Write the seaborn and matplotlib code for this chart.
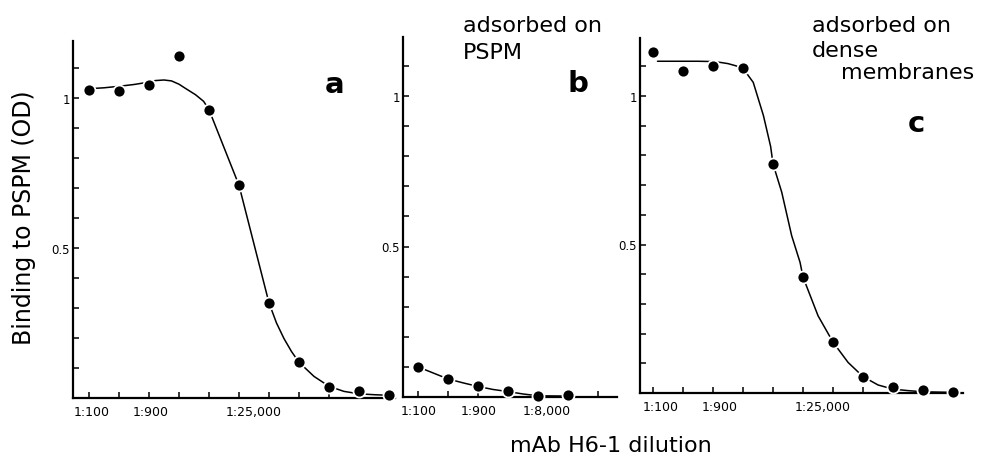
import numpy as np
import pandas as pd
import matplotlib
matplotlib.use("Agg")
import matplotlib.pyplot as plt
from matplotlib.transforms import ScaledTranslation
import seaborn as sns

# ---------------- data (dilution step index: 1:100, 1:300, 1:900, ... three-fold) ----
steps_a = [0, 1, 2, 3, 4, 5, 6, 7, 8, 9, 10]
od_a = [1.028, 1.024, 1.042, 1.141, 0.961, 0.709, 0.317, 0.119, 0.037, 0.022, 0.011]
fit_x_a = [0, 0.5, 1, 1.5, 2, 2.2, 2.5, 2.75, 3.0, 3.2, 3.55, 3.82, 4, 5, 6, 6.25, 6.5,
           6.75, 7, 7.5, 8, 8.5, 9, 9.5, 10]
fit_a = [1.031, 1.034, 1.039, 1.045, 1.053, 1.058, 1.06, 1.057, 1.046, 1.033, 1.011,
         0.989, 0.961, 0.709, 0.317, 0.25, 0.198, 0.155, 0.119, 0.072, 0.039, 0.022,
         0.014, 0.011, 0.009]

steps_b = [0, 1, 2, 3, 4, 5]
od_b = [0.10, 0.06, 0.035, 0.02, 0.004, 0.006]
fit_x_b = [0, 0.5, 1, 1.5, 2, 2.5, 3, 3.5, 4, 5]
fit_b = [0.10, 0.08, 0.06, 0.047, 0.035, 0.025, 0.018, 0.01, 0.004, 0.003]

steps_c = [0, 1, 2, 3, 4, 5, 6, 7, 8, 9, 10]
od_c = [1.147, 1.085, 1.102, 1.093, 0.771, 0.39, 0.171, 0.053, 0.019, 0.011, 0.002]
fit_x_c = [0.15, 0.5, 1, 1.5, 2, 2.25, 2.5, 2.75, 3, 3.34, 3.68, 3.92, 4, 4.29, 4.62,
           4.9, 5, 5.5, 6, 6.5, 7, 7.5, 8, 8.5, 9, 10]
fit_c = [1.117, 1.117, 1.117, 1.117, 1.116, 1.113, 1.109, 1.102, 1.093, 1.046, 0.934,
         0.83, 0.771, 0.676, 0.53, 0.44, 0.39, 0.26, 0.171, 0.103, 0.055, 0.027, 0.013,
         0.008, 0.004, 0.002]

xt_a = {0: "1:100", 2: "1:900", 5: "1:25,000"}
xt_b = {0: "1:100", 2: "1:900", 4: "1:8,000"}
xt_c = {0: "1:100", 2: "1:900", 5: "1:25,000"}
yt_labels = {0.5: "0.5", 1.0: "1"}

panel_letters = ["a", "b", "c"]
note_b = ["adsorbed on", "PSPM"]
note_c = ["adsorbed on", "dense", "membranes"]
y_title = "Binding to PSPM (OD)"
x_title = "mAb H6-1 dilution"

# ---------------- figure ----------------
sns.set_theme(style="ticks")
plt.rcParams["font.family"] = ["DejaVu Sans"]
plt.rcParams["text.color"] = "black"

W, H = 981, 456
fig = plt.figure(figsize=(W / 100, H / 100), dpi=100)
fig.patch.set_facecolor("white")


def px_axes(left, right, top, bottom):
    return fig.add_axes([left / W, 1 - bottom / H, (right - left) / W, (bottom - top) / H])


def style_axes(ax, xlim, ylim, nsteps, xlabels, xoffs):
    ax.set_facecolor("white")
    ax.set_xlim(*xlim)
    ax.set_ylim(*ylim)
    for s in ["top", "right"]:
        ax.spines[s].set_visible(False)
    for s in ["left", "bottom"]:
        ax.spines[s].set_linewidth(1.6)
        ax.spines[s].set_color("black")
    yt = [round(0.1 * i, 1) for i in range(1, 12)]
    ax.set_yticks(yt)
    ax.set_yticklabels([yt_labels.get(v, "") for v in yt])
    xt = list(range(nsteps))
    ax.set_xticks(xt)
    ax.set_xticklabels([xlabels.get(v, "") for v in xt])
    ax.tick_params(axis="y", direction="in", length=4, width=1.1, pad=2,
                   labelsize=8.5, colors="black")
    ax.tick_params(axis="x", direction="in", length=4, width=1.1, pad=5,
                   labelsize=9, colors="black")
    ax.set_xlabel("")
    ax.set_ylabel("")
    for v, lab in zip(xt, ax.get_xticklabels()):
        dx = xoffs.get(v, 0)
        if dx:
            lab.set_transform(lab.get_transform() +
                              ScaledTranslation(dx / 100, 0, fig.dpi_scale_trans))


def draw(ax, sx, sy, fx, fy):
    sns.lineplot(x=fx, y=fy, ax=ax, color="black", linewidth=1.1, sort=False,
                 estimator=None, zorder=2, solid_joinstyle="round")
    sns.scatterplot(x=sx, y=sy, ax=ax, color="black", s=75, edgecolor="white",
                    linewidth=1.3, zorder=3, clip_on=False)


ax_a = px_axes(73, 395, 42, 399)
draw(ax_a, steps_a, od_a, fit_x_a, fit_a)
style_axes(ax_a, (-0.533, 10.2), (0, 357 / 300), 11, xt_a, {0: 3, 2: 2, 5: 15})

ax_b = px_axes(403, 617, 38, 398)
draw(ax_b, steps_b, od_b, fit_x_b, fit_b)
style_axes(ax_b, (-0.5, 6.63), (0, 360 / 301), 7, xt_b, {0: 1, 2: 1, 4: 9})

ax_c = px_axes(640, 963, 39, 394)
draw(ax_c, steps_c, od_c, fit_x_c, fit_c)
style_axes(ax_c, (-0.433, 10.33), (0, 355 / 297), 11, xt_c, {0: 8, 2: 7, 5: 20})


def ftext(x, y, s, **kw):
    fig.text(x / W, 1 - y / H, s, color="black", **kw)


# panel letters
ftext(335, 93, panel_letters[0], fontsize=21, fontweight="bold", ha="center", va="baseline")
ftext(578, 92, panel_letters[1], fontsize=21, fontweight="bold", ha="center", va="baseline")
ftext(916, 132, panel_letters[2], fontsize=21, fontweight="bold", ha="center", va="baseline")

# annotations
ftext(463, 32, note_b[0], fontsize=16, ha="left", va="baseline")
ftext(463, 59, note_b[1], fontsize=16, ha="left", va="baseline")
ftext(812, 32, note_c[0], fontsize=16, ha="left", va="baseline")
ftext(812, 57, note_c[1], fontsize=16, ha="left", va="baseline")
ftext(841, 79, note_c[2], fontsize=16, ha="left", va="baseline")

# axis titles
ftext(24, 218, y_title, fontsize=17, rotation=90, ha="center", va="center")
ftext(611, 446, x_title, fontsize=16, ha="center", va="center")

fig.savefig("out.png", dpi=100, facecolor="white")
